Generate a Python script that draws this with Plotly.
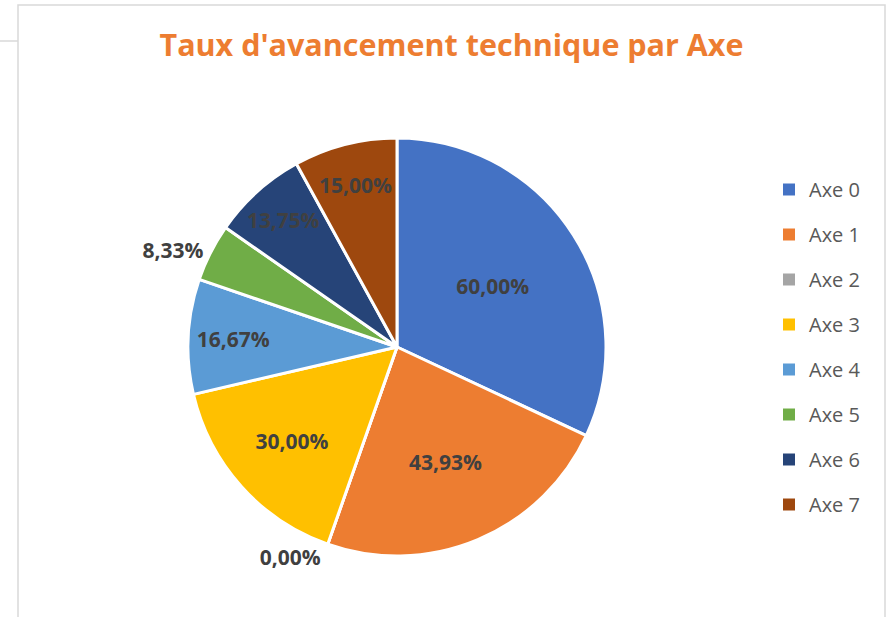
import plotly.graph_objects as go

axes = ["Axe 0", "Axe 1", "Axe 2", "Axe 3", "Axe 4", "Axe 5", "Axe 6", "Axe 7"]
taux = [60.00, 43.93, 0.00, 30.00, 16.67, 8.33, 13.75, 15.00]
couleurs = ["#4472C4", "#ED7D31", "#A5A5A5", "#FFC000",
            "#5B9BD5", "#70AD47", "#264478", "#9E480E"]
positions = ["inside", "inside", "outside", "inside",
             "inside", "outside", "inside", "inside"]

etiquettes = [f"{v:.2f}".replace(".", ",") + "%" for v in taux]

W, H = 887, 617

fig = go.Figure()

fig.add_trace(go.Pie(
    labels=axes,
    values=taux,
    text=etiquettes,
    texttemplate="%{text}",
    textposition=positions,
    insidetextorientation="horizontal",
    sort=False,
    direction="clockwise",
    rotation=0,
    marker=dict(colors=couleurs, line=dict(color="white", width=3)),
    textfont=dict(family="Open Sans", size=21, color="#404040", weight="bold"),
    showlegend=False,
    hoverinfo="label+text",
    domain=dict(x=[188 / W, 606 / W], y=[1 - 556 / H, 1 - 138 / H]),
))

# legend entries (one group each so the spacing can be opened up)
for nom, c in zip(axes, couleurs):
    fig.add_trace(go.Scatter(
        x=[None], y=[None], mode="markers", name=nom,
        legendgroup=nom, showlegend=True,
        marker=dict(symbol="square", size=9, color=c),
    ))

fig.update_layout(
    width=W, height=H,
    margin=dict(l=0, r=0, t=0, b=0),
    paper_bgcolor="white",
    plot_bgcolor="white",
    xaxis=dict(visible=False),
    yaxis=dict(visible=False),
    title=dict(
        text="<b>Taux d'avancement technique par Axe</b>",
        font=dict(family="Open Sans", size=30.5, color="#ED7D31"),
        x=451.5 / W, xanchor="center",
        y=1 - 45 / H, yanchor="middle",
    ),
    legend=dict(
        x=769 / W, xanchor="left",
        y=1 - 170 / H, yanchor="top",
        font=dict(family="Open Sans", size=20, color="#595959"),
        tracegroupgap=16,
        itemsizing="constant",
        bgcolor="rgba(0,0,0,0)",
    ),
    shapes=[
        dict(type="rect", xref="paper", yref="paper",
             x0=18 / W, x1=885 / W, y0=-0.05, y1=1 - 5 / H,
             line=dict(color="#D9D9D9", width=1.5), layer="below"),
        dict(type="line", xref="paper", yref="paper",
             x0=0, x1=18 / W, y0=1 - 41 / H, y1=1 - 41 / H,
             line=dict(color="#D9D9D9", width=1.5)),
    ],
)

fig.write_html("out.html", config={"displayModeBar": False},
               post_script="document.body.style.margin='0';")
